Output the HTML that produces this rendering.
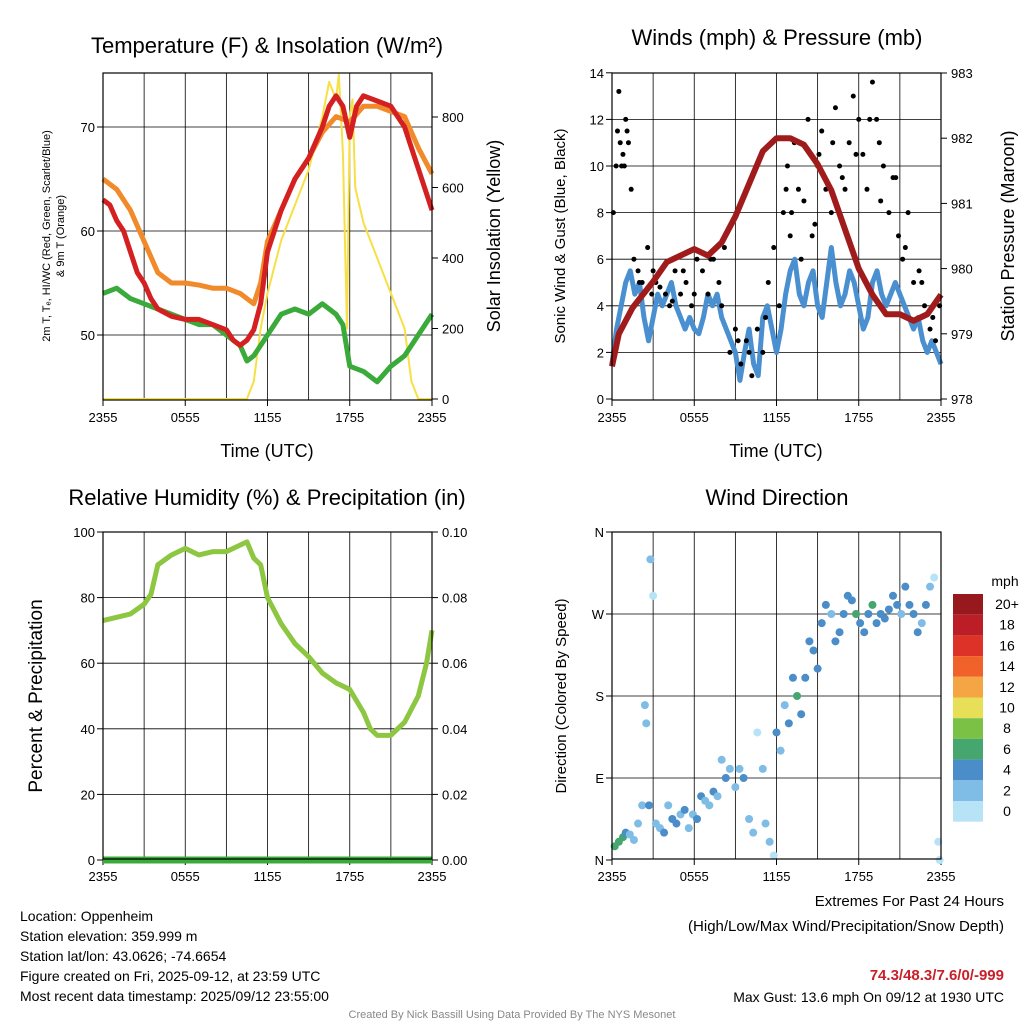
<!DOCTYPE html>
<html><head><meta charset="utf-8"><style>
body{margin:0;background:#fff;font-family:"Liberation Sans",sans-serif}
svg text{font-family:"Liberation Sans",sans-serif;fill:#000}
</style></head><body>
<svg id="s" width="1024" height="1024" xmlns="http://www.w3.org/2000/svg"></svg>
<script>
const tempT=[[0,63],[0.5,62.5],[1,61],[1.5,60],[2,58],[2.5,56],[3,55],[3.5,53.5],[4,52.5],[5,51.8],[6,51.5],[7,51.5],[8,51],[9,50.5],[9.5,49.5],[10,49],[10.5,49.5],[11,50.5],[11.5,53],[12,58],[13,62],[14,65],[15,67],[16,70],[16.5,72],[17,73],[17.5,72],[18,69],[18.5,72],[19,73],[20,72.5],[21,72],[22,70],[22.5,68],[23,66],[23.5,64],[24,62]];
const temp9=[[0,65],[1,64],[2,62],[3,59],[4,56],[5,55],[6,55],[7,54.8],[8,54.5],[9,54.5],[10,54],[11,53],[11.5,55],[12,59],[13,62],[14,65],[15,67],[16,69.5],[17,71],[18,70.5],[19,72],[20,72],[21,71.5],[22,71],[23,68],[24,65.5]];
const dewT=[[0,54],[1,54.5],[2,53.5],[3,53],[4,52.5],[5,52],[6,51.5],[7,51],[8,51],[9,50],[10,49],[10.5,47.5],[11,48],[12,50],[13,52],[14,52.5],[15,52],[16,53],[17,52],[17.5,51],[18,47],[19,46.5],[20,45.5],[21,47],[22,48],[23,50],[24,52]];
const solar=[[0,0],[10.5,0],[11,50],[11.5,200],[12,300],[13,450],[14,550],[15,650],[16,800],[16.5,900],[17,850],[17.2,920],[17.5,700],[17.8,200],[18,800],[18.2,850],[18.4,600],[19,500],[20,400],[21,300],[22,200],[22.5,50],[23,0],[24,0]];
const pres=[[0,978.5],[0.5,979],[1.5,979.4],[3,979.8],[4,980.1],[5,980.2],[6,980.3],[7,980.2],[8,980.4],[9,980.8],[10,981.3],[11,981.8],[12,982],[13,982],[14,981.9],[15,981.6],[16,981.2],[17,980.6],[18,980],[19,979.6],[20,979.3],[21,979.3],[22,979.2],[23,979.3],[24,979.6]];
const wind=[1.5,3,4,5,5.5,4.5,5,3.5,2.5,3.5,4.5,4,4.5,5,4,3.5,3,3.5,3,2.8,3.5,4.5,4,4.5,3.5,3,2.5,2,0.8,2,3,1.5,1,3.5,4,3,2,3,4.5,5.5,6,4.5,4,5,5.5,4,3.5,5,6.5,5,4,4.5,5.5,5,4,3,3.5,5,5.5,4.5,4,4.5,5,4.5,4,3.5,3,3.5,2.5,2,2.5,2,1.5];
const gustT=[0.1,0.3,0.5,0.6,0.8,1,1.2,1.4,0.9,1.6,1.9,2.2,2.6,2.9,3.2,3.5,3.9,4.2,4.6,5,5.4,5.8,6.2,6.6,7,7.4,7.8,8.2,8.6,9,9.4,9.8,10.2,10.6,11,11.4,11.8,12.2,12.5,12.8,13,13.3,13.6,14,14.3,14.6,15,15.3,15.6,16,16.3,16.6,17,17.3,17.6,18,18.3,18.6,19,19.3,19.5,19.8,20.2,20.5,20.9,21.2,21.6,22,22.4,22.8,23.2,23.6,23.9,0.4,0.7,1.1,2.0,3.0,4.4,5.2,6.0,7.2,8.0,9.2,10.0,11.2,12.7,13.1,13.8,14.8,15.1,16.1,16.8,17.8,18.8,19.6,20.7,21.4,22.6,23.4];
const gustV=[8,10,13.2,11,10.5,12,11,9,10,6,5.5,5,6.5,4.5,5,4.8,4.5,4,5.5,4.5,5,4,6,5.5,4.5,6,5,6.5,2,3,1.5,2.5,1,3,2,5,6.5,4,8,10,7,11,9,8.5,12,7,10,11.5,9,8,12.5,10,9,11,13,12,10.5,9,13.6,12,11,10,8,9.5,7,6,8,5,5.5,4,3,2.5,4,11.5,10,11.5,5,5.5,4.2,5.5,4.5,6,4,2.5,2,3.5,9,8,6,7.5,10.5,11,9.5,10.5,12,8.5,9.5,6.5,5,3.5];
const rh=[[0,73],[1,74],[2,75],[3,78],[3.5,81],[4,90],[5,93],[6,95],[7,93],[8,94],[9,94],[10,96],[10.5,97],[11,92],[11.5,90],[12,80],[13,72],[14,66],[15,62],[16,57],[17,54],[18,52],[19,45],[19.5,40],[20,38],[21,38],[22,42],[23,50],[23.6,60],[24,70]];
const dirT=[0.2,0.5,0.8,1,1.3,1.6,1.9,2.2,2.4,2.5,2.7,2.8,3,3.2,3.5,3.8,4.1,4.4,4.7,5,5.3,5.6,5.9,6.2,6.5,6.8,7.1,7.4,7.7,8,8.3,8.6,9,9.3,9.6,10,10.3,10.6,11,11.2,11.5,11.8,12,12.3,12.6,12.9,13.2,13.5,13.8,14.1,14.4,14.7,15,15.3,15.6,16,16.3,16.6,16.9,17.2,17.5,17.8,18.1,18.4,18.7,19,19.3,19.6,19.9,20.2,20.5,20.8,21.1,21.4,21.7,22,22.3,22.6,22.9,23.2,23.5,23.8,23.9];
const dirV=[15,20,25,30,28,22,40,60,170,150,60,330,290,40,35,30,60,45,40,50,55,35,50,45,70,65,60,75,70,110,90,100,80,100,90,45,30,140,100,40,20,5,140,120,170,150,200,180,160,200,240,230,210,260,280,270,240,250,270,290,285,270,260,250,270,280,260,270,265,275,290,280,270,300,280,270,250,260,280,300,310,20,0];
const dirS=[6,6,7,4,3,2,3,3,3,2,4,2,1,3,2,4,3,4,4,3,4,2,3,4,4,2,3,4,3,2,4,3,3,2,4,3,3,1,2,3,2,1,4,3,2,4,4,6,4,5,4,4,4,4,4,3,4,4,4,4,4,6,4,4,5,6,4,4,4,5,4,4,3,4,4,4,4,3,4,2,1,0,1];
const cbLabels=["20+","18","16","14","12","10","8","6","4","2","0"];
const cbColors=["#98191d","#bb1e26","#dd3228","#f0622a","#f6a545","#e7df57","#7bc146","#45a670","#4a8dc8","#7fbce6","#b8e3f7"];
const s=document.getElementById('s');const NS="http://www.w3.org/2000/svg";
function el(t,a,p){const e=document.createElementNS(NS,t);for(const k in a)e.setAttribute(k,a[k]);(p||s).appendChild(e);return e}
function tx(x,y,str,o){const e=el('text',Object.assign({x:x,y:y,'font-size':o.fs||13,'text-anchor':o.a||'middle'},o.extra||{}));e.textContent=str;if(o.rot)e.setAttribute('transform',`rotate(-90 ${x} ${y})`);return e}
const xt=["2355","0555","1155","1755","2355"];
function panel(x0,y0,name){const W=329,H=327;
 const g=el('g',{});
 const X=t=>x0+t/24*W;
 for(let i=1;i<8;i++){el('line',{x1:X(i*3),x2:X(i*3),y1:y0,y2:y0+H,stroke:'#000','stroke-width':0.8},g);}
 xt.forEach((v,i)=>{el('line',{x1:X(i*6),x2:X(i*6),y1:y0+H,y2:y0+H+6,stroke:'#000'},g);const t=tx(X(i*6),y0+H+22,v,{fs:13});});
 return {g,X,W,H,x0,y0}}
function frame(p){el('rect',{x:p.x0,y:p.y0,width:p.W,height:p.H,fill:'none',stroke:'#000','stroke-width':1.2},p.g)}
function line(pts,X,Y,col,w,name,g){const e=el('polyline',{points:pts.map(p=>X(p[0])+','+Y(p[1])).join(' '),fill:'none',stroke:col,'stroke-width':w,'stroke-linejoin':'round'},g);}
function yTicks(p,vals,Y,labels,side){vals.forEach((v,i)=>{const y=Y(v);const x=side?p.x0+p.W:p.x0;el('line',{x1:x,x2:side?x+6:x-6,y1:y,y2:y,stroke:'#000'},p.g);const t=tx(side?x+10:x-8,y+5,labels[i],{fs:13,a:side?'start':'end'});})}
// Panel 1
let p=panel(103,73,'temperature-panel');
const TY=v=>335-(v-50)*10.4, SY=v=>399-v*0.3525;
[50,60,70].forEach(v=>el('line',{x1:103,x2:432,y1:TY(v),y2:TY(v),stroke:'#000','stroke-width':0.8},p.g));
line(solar,p.X,SY,'#f7e045',2,'solar-line',p.g);
line(dewT,p.X,TY,'#3aaa3a',5,'dewpoint-line',p.g);
line(temp9,p.X,TY,'#f08a2a',5,'temp-9m-line',p.g);
line(tempT,p.X,TY,'#d42020',5,'temp-2m-line',p.g);
frame(p);yTicks(p,[50,60,70],TY,["50","60","70"],0);yTicks(p,[0,200,400,600,800],SY,["0","200","400","600","800"],1);
tx(267,53,"Temperature (F) & Insolation (W/m²)",{fs:22});tx(267,457,"Time (UTC)",{fs:18});
tx(50,236,"2m T, Tₑ, HI/WC (Red, Green, Scarlet/Blue)",{fs:11,rot:1});tx(64,236,"& 9m T (Orange)",{fs:11,rot:1});
tx(500,236,"Solar Insolation (Yellow)",{fs:18,rot:1});
// Panel 2
p=panel(612,73,'wind-panel');
const WY=v=>399-v*23.3, PY=v=>399-(v-978)*65.2;
[2,4,6,8,10,12].forEach(v=>el('line',{x1:612,x2:941,y1:WY(v),y2:WY(v),stroke:'#000','stroke-width':0.8},p.g));
line(wind.map((v,i)=>[i/3,v]),p.X,WY,'#4a90d0',5,'wind-speed-line',p.g);
gustT.forEach((t,i)=>{const c=el('circle',{cx:p.X(t),cy:WY(gustV[i]),r:2.5,fill:'#000'},p.g);});
line(pres,p.X,PY,'#a01c1c',6,'pressure-line',p.g);
frame(p);yTicks(p,[0,2,4,6,8,10,12,14],WY,["0","2","4","6","8","10","12","14"],0);yTicks(p,[978,979,980,981,982,983],PY,["978","979","980","981","982","983"],1);
tx(777,45,"Winds (mph) & Pressure (mb)",{fs:22});tx(776,457,"Time (UTC)",{fs:18});
tx(565,236,"Sonic Wind & Gust (Blue, Black)",{fs:15,rot:1});tx(1014,236,"Station Pressure (Maroon)",{fs:18,rot:1});
// Panel 3
p=panel(103,532,'humidity-panel');
const RY=v=>860-v*3.28;
[20,40,60,80].forEach(v=>el('line',{x1:103,x2:432,y1:RY(v),y2:RY(v),stroke:'#000','stroke-width':0.8},p.g));
line(rh,p.X,RY,'#8dc641',5,'rh-line',p.g);
line([[0,0],[24,0]],p.X,RY,'#3aaa3a',7,'precip-line',p.g);
frame(p);yTicks(p,[0,20,40,60,80,100],RY,["0","20","40","60","80","100"],0);yTicks(p,[0,20,40,60,80,100],RY,["0.00","0.02","0.04","0.06","0.08","0.10"],1);
tx(267,505,"Relative Humidity (%) & Precipitation (in)",{fs:22});tx(42,696,"Percent & Precipitation",{fs:19,rot:1});
// Panel 4
p=panel(612,532,'wind-direction-panel');
const DY=v=>860-v*0.9111;
[90,180,270].forEach(v=>el('line',{x1:612,x2:941,y1:DY(v),y2:DY(v),stroke:'#000','stroke-width':0.8},p.g));
function colFor(sp){const i=Math.min(10,Math.floor(sp/2));return cbColors[10-i]}
dirT.forEach((t,i)=>{const c=el('circle',{cx:p.X(t),cy:DY(dirV[i]),r:4,fill:colFor(dirS[i])},p.g);});
frame(p);yTicks(p,[0,90,180,270,360],DY,["N","E","S","W","N"],0);
tx(777,505,"Wind Direction",{fs:22});tx(566,696,"Direction (Colored By Speed)",{fs:15,rot:1});
cbColors.forEach((c,i)=>{const r=el('rect',{x:953,y:594+i*20.7,width:30,height:20.7,fill:c});tx(1007,609+i*20.7,cbLabels[i],{fs:14});});
tx(1005,586,"mph",{fs:14});
// footer
["Location: Oppenheim","Station elevation: 359.999 m","Station lat/lon: 43.0626; -74.6654","Figure created on Fri, 2025-09-12, at 23:59 UTC","Most recent data timestamp: 2025/09/12 23:55:00"].forEach((l,i)=>tx(20,921+i*20,l,{fs:14,a:'start'}));
tx(1004,906,"Extremes For Past 24 Hours",{fs:15,a:'end'});
tx(1004,931,"(High/Low/Max Wind/Precipitation/Snow Depth)",{fs:15,a:'end'});
tx(1004,980,"74.3/48.3/7.6/0/-999",{fs:15,a:'end',extra:{'font-weight':'bold',style:'fill:#c8202a'}});
tx(1004,1002,"Max Gust: 13.6 mph On 09/12 at 1930 UTC",{fs:14,a:'end'});
tx(512,1018,"Created By Nick Bassill Using Data Provided By The NYS Mesonet",{fs:11,extra:{style:'fill:#888'}});
</script>
</body></html>
